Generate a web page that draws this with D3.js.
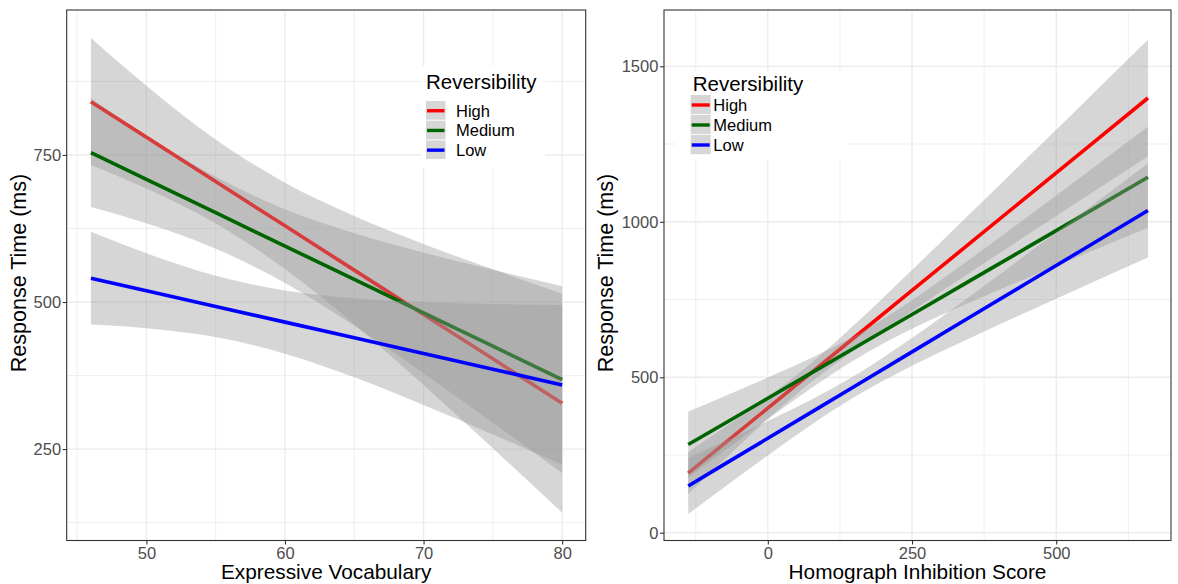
<!DOCTYPE html>
<html>
<head>
<meta charset="utf-8">
<script src="https://cdn.jsdelivr.net/npm/d3@7"></script>
<style>
  body { margin: 0; background: #fff; }
  svg { display: block; }
  text { font-family: "Liberation Sans", Arial, Helvetica, sans-serif; }
</style>
</head>
<body>
<svg id="chart" width="1178" height="584"></svg>
<script>
// ---- Series names ----
const groups = ["High", "Medium", "Low"];

// ---- Panel 1: Expressive Vocabulary (fitted line with 95% band) ----
const vocabX = [46, 50, 55, 60, 65, 70, 75, 80];
const vocabHighFit   = [840.6, 780.3, 704.9, 629.5, 554.2, 478.8, 403.4, 328.0];
const vocabHighLower = [732.5, 692.9, 633.4, 556.1, 462.1, 358.8, 251.3, 141.8];
const vocabHighUpper = [948.7, 867.7, 776.4, 702.9, 646.3, 598.8, 555.5, 514.2];
const vocabMediumFit   = [754.0, 708.6, 651.8, 595.1, 538.3, 481.5, 424.8, 368.0];
const vocabMediumLower = [661.7, 634.0, 590.7, 532.4, 459.7, 379.0, 294.9, 209.0];
const vocabMediumUpper = [846.3, 783.2, 712.9, 657.8, 616.9, 584.0, 554.7, 527.0];
const vocabLowFit   = [540.5, 519.1, 492.5, 465.8, 439.1, 412.4, 385.7, 359.0];
const vocabLowLower = [461.6, 455.3, 440.3, 412.2, 371.9, 324.8, 274.7, 223.1];
const vocabLowUpper = [619.4, 582.9, 544.7, 519.4, 506.3, 500.0, 496.7, 494.9];

// ---- Panel 2: Homograph Inhibition Score (fitted line with 95% band) ----
const homX = [-138, -75, 0, 75, 150, 250, 350, 450, 550, 659];
const homHighFit   = [192.0, 287.3, 400.8, 514.3, 627.8, 779.1, 930.4, 1081.8, 1233.1, 1398.0];
const homHighLower = [124.0, 236.0, 365.6, 483.9, 586.9, 713.3, 836.1, 957.9, 1079.1, 1211.0];
const homHighUpper = [260.0, 338.6, 436.0, 544.7, 668.7, 844.9, 1024.7, 1205.7, 1387.1, 1585.0];
const homMediumFit   = [283.5, 351.4, 432.3, 513.2, 594.1, 701.9, 809.8, 917.6, 1025.4, 1143.0];
const homMediumLower = [177.0, 263.6, 365.5, 464.4, 555.6, 655.9, 740.3, 819.5, 896.9, 980.6];
const homMediumUpper = [390.0, 439.2, 499.1, 562.0, 632.6, 747.9, 879.3, 1015.7, 1153.9, 1305.4];
const homLowFit   = [150.5, 220.5, 303.8, 387.1, 470.5, 581.6, 692.7, 803.8, 914.9, 1036.0];
const homLowLower = [60.5, 147.0, 248.5, 346.6, 436.2, 536.8, 625.5, 710.6, 794.3, 885.0];
const homLowUpper = [240.5, 294.0, 359.1, 427.6, 504.8, 626.4, 759.9, 897.0, 1035.5, 1187.0];

// ---- Axis ticks ----
const vocabTicks = [50, 60, 70, 80];
const vocabMinorTicks = [45, 55, 65, 75];
const vocabRtTicks = [250, 500, 750];
const vocabRtMinorTicks = [125, 375, 625, 875];
const homTicks = [0, 250, 500];
const homMinorTicks = [-125, 125, 375, 625];
const homRtTicks = [0, 500, 1000, 1500];
const homRtMinorTicks = [250, 750, 1250];

// ---- Appearance ----
const groupColor = { High: "#ff0000", Medium: "#006400", Low: "#0000ff" };
const FONT_TICK = 16.5, FONT_TITLE = 20.8, FONT_YTITLE = 21.5;

const svg = d3.select("#chart");

function buildSeries(xs, fit, lower, upper) {
  return xs.map((x, i) => ({ x, fit: fit[i], lo: lower[i], hi: upper[i] }));
}

function drawPanel(cfg) {
  const g = svg.append("g");
  const x = d3.scaleLinear().domain(cfg.xDomain).range([cfg.left, cfg.right]);
  const y = d3.scaleLinear().domain(cfg.yDomain).range([cfg.bottom, cfg.top]);

  // panel background
  g.append("rect")
    .attr("x", cfg.left).attr("y", cfg.top)
    .attr("width", cfg.right - cfg.left).attr("height", cfg.bottom - cfg.top)
    .attr("fill", "#fff");

  // grid: minor then major
  const grid = g.append("g").attr("stroke", "#ebebeb").attr("fill", "none");
  cfg.yMinor.forEach(v => grid.append("line")
    .attr("x1", cfg.left).attr("x2", cfg.right).attr("y1", y(v)).attr("y2", y(v))
    .attr("stroke-width", 0.8));
  cfg.xMinor.forEach(v => grid.append("line")
    .attr("y1", cfg.top).attr("y2", cfg.bottom).attr("x1", x(v)).attr("x2", x(v))
    .attr("stroke-width", 0.8));
  cfg.yTicks.forEach(v => grid.append("line")
    .attr("x1", cfg.left).attr("x2", cfg.right).attr("y1", y(v)).attr("y2", y(v))
    .attr("stroke-width", 1.3));
  cfg.xTicks.forEach(v => grid.append("line")
    .attr("y1", cfg.top).attr("y2", cfg.bottom).attr("x1", x(v)).attr("x2", x(v))
    .attr("stroke-width", 1.3));

  // bands and fitted lines, one group at a time
  const area = d3.area().x(d => x(d.x)).y0(d => y(d.lo)).y1(d => y(d.hi)).curve(d3.curveMonotoneX);
  const line = d3.line().x(d => x(d.x)).y(d => y(d.fit));
  const plot = g.append("g");
  cfg.series.forEach(s => {
    plot.append("path").datum(s.data).attr("d", area)
      .attr("fill", "#999999").attr("fill-opacity", 0.4).attr("stroke", "none");
    plot.append("path").datum(s.data).attr("d", line)
      .attr("fill", "none").attr("stroke", groupColor[s.name])
      .attr("stroke-width", 3.6).attr("stroke-linecap", "butt");
  });

  // legend inside the panel
  const lg = g.append("g");
  const L = cfg.legend;
  lg.append("rect").attr("x", L.boxX).attr("y", L.boxY)
    .attr("width", L.boxW).attr("height", L.boxH).attr("fill", "#fff");
  lg.append("text").attr("x", L.titleX).attr("y", L.titleY)
    .attr("font-size", 20.5).attr("fill", "#000").text("Reversibility");
  groups.forEach((name, i) => {
    const ky = L.keyY + i * L.keyStep;
    lg.append("rect").attr("x", L.keyX).attr("y", ky)
      .attr("width", L.keySize).attr("height", L.keySize - 0.8)
      .attr("fill", "#d6d6d6");
    lg.append("line")
      .attr("x1", L.keyX + 1).attr("x2", L.keyX + L.keySize - 1)
      .attr("y1", ky + L.keySize / 2).attr("y2", ky + L.keySize / 2)
      .attr("stroke", groupColor[name]).attr("stroke-width", 3.4);
    lg.append("text").attr("x", L.labelX).attr("y", ky + L.keySize / 2)
      .attr("dy", "0.36em").attr("font-size", 16.5).attr("fill", "#000").text(name);
  });

  // panel border
  g.append("rect")
    .attr("x", cfg.left).attr("y", cfg.top)
    .attr("width", cfg.right - cfg.left).attr("height", cfg.bottom - cfg.top)
    .attr("fill", "none").attr("stroke", "#333").attr("stroke-width", 1.1);

  // axes
  const ax = g.append("g").attr("transform", `translate(0,${cfg.bottom})`)
    .call(d3.axisBottom(x).tickValues(cfg.xTicks).tickSize(4).tickPadding(2.3).tickFormat(d3.format("d")));
  const ay = g.append("g").attr("transform", `translate(${cfg.left},0)`)
    .call(d3.axisLeft(y).tickValues(cfg.yTicks).tickSize(4).tickPadding(1.6).tickFormat(d3.format("d")));
  [ax, ay].forEach(a => {
    a.select(".domain").remove();
    a.selectAll(".tick line").attr("stroke", "#333").attr("stroke-width", 1.1);
    a.selectAll(".tick text").attr("fill", "#4d4d4d").attr("font-size", FONT_TICK)
      .attr("font-family", "Liberation Sans, Arial, sans-serif");
  });

  // axis titles
  g.append("text")
    .attr("x", (cfg.left + cfg.right) / 2).attr("y", 579.3)
    .attr("text-anchor", "middle").attr("font-size", FONT_TITLE).attr("fill", "#000")
    .text(cfg.xTitle);
  g.append("text")
    .attr("transform", `translate(${cfg.yTitleX},273) rotate(-90)`)
    .attr("text-anchor", "middle").attr("font-size", FONT_YTITLE).attr("fill", "#000")
    .text("Response Time (ms)");
}

drawPanel({
  left: 66.7, right: 585.7, top: 10, bottom: 540.5,
  xDomain: [44.25, 81.7], yDomain: [94.5, 996.5],
  xTicks: vocabTicks, xMinor: vocabMinorTicks,
  yTicks: vocabRtTicks, yMinor: vocabRtMinorTicks,
  xTitle: "Expressive Vocabulary", yTitleX: 26.2,
  series: [
    { name: "High", data: buildSeries(vocabX, vocabHighFit, vocabHighLower, vocabHighUpper) },
    { name: "Medium", data: buildSeries(vocabX, vocabMediumFit, vocabMediumLower, vocabMediumUpper) },
    { name: "Low", data: buildSeries(vocabX, vocabLowFit, vocabLowLower, vocabLowUpper) }
  ],
  legend: { boxX: 421, boxY: 66, boxW: 124, boxH: 102, titleX: 426, titleY: 89.3,
            keyX: 426, keyY: 101, keyStep: 19.7, keySize: 19.5, labelX: 456 }
});

drawPanel({
  left: 664, right: 1171, top: 10, bottom: 540.5,
  xDomain: [-180, 699], yDomain: [-25, 1681],
  xTicks: homTicks, xMinor: homMinorTicks,
  yTicks: homRtTicks, yMinor: homRtMinorTicks,
  xTitle: "Homograph Inhibition Score", yTitleX: 612.5,
  series: [
    { name: "High", data: buildSeries(homX, homHighFit, homHighLower, homHighUpper) },
    { name: "Medium", data: buildSeries(homX, homMediumFit, homMediumLower, homMediumUpper) },
    { name: "Low", data: buildSeries(homX, homLowFit, homLowLower, homLowUpper) }
  ],
  legend: { boxX: 676, boxY: 72, boxW: 172, boxH: 88, titleX: 692.7, titleY: 90.5,
            keyX: 690.7, keyY: 95, keyStep: 20, keySize: 20, labelX: 713.3 }
});
</script>
</body>
</html>
